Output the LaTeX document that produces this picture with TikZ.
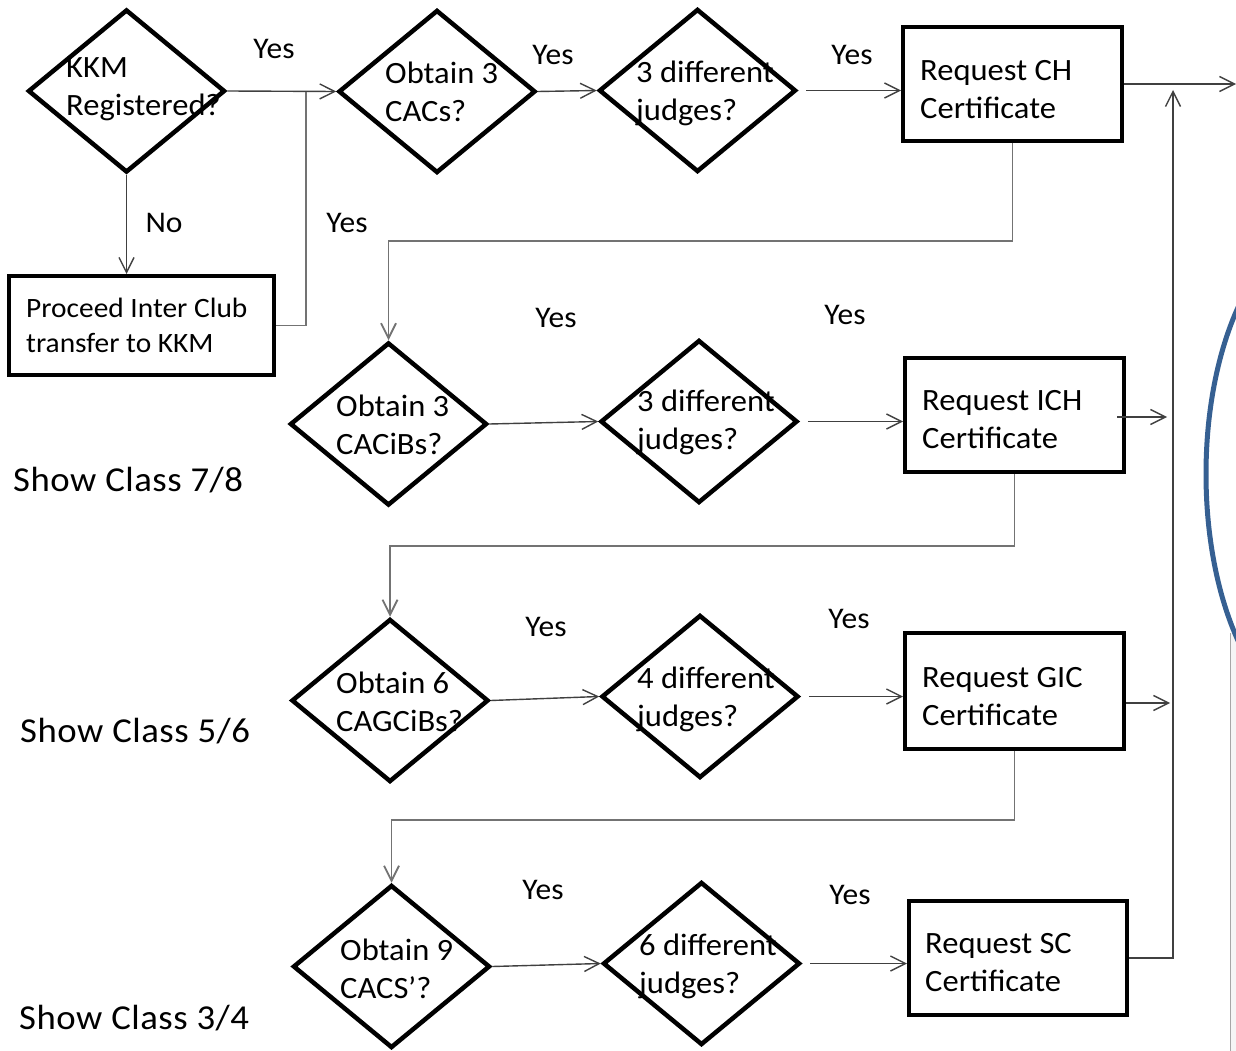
\documentclass[tikz,border=0pt]{standalone}
\usepackage{fontspec}
\setmainfont{Carlito}[FakeStretch=1.05]
\usetikzlibrary{shapes.geometric,arrows.meta,calc}
\definecolor{ellblue}{RGB}{54,96,146}
\begin{document}
\begin{tikzpicture}[x=1pt,y=-1pt,
  dec/.style={draw=black, line width=4.5pt, shape=diamond, minimum width=197pt, minimum height=163pt, inner sep=0pt},
  box/.style={draw=black, line width=4pt, rectangle, inner sep=0pt},
  txt/.style={anchor=north west, align=left, inner sep=0pt, font=\fontsize{31}{38}\selectfont},
  txtsm/.style={anchor=north west, align=left, inner sep=0pt, font=\fontsize{28}{35}\selectfont},
  lbl/.style={anchor=base, inner sep=0pt, font=\fontsize{30}{36}\selectfont},
  cls/.style={anchor=base west, inner sep=0pt, font=\fontsize{35}{40}\selectfont\addfontfeature{LetterSpace=1.5}},
  tip/.style={-{Straight Barb[length=15pt,width=15pt]}},
  conn/.style={draw=black!75, line width=1.4pt, tip},
  loopline/.style={draw=black!55, line width=1.8pt},
  looparrow/.style={loopline, tip},
]
\useasboundingbox (0,0) rectangle (1236,1051);

% right edge decoration
\begin{scope}
  \clip (0,0) rectangle (1236,1051);
  \fill[black!4] (1230,633) rectangle (1240,1051);
  \draw[black!35, line width=1pt] (1230,633) -- (1230,1051);
  \draw[ellblue, line width=5pt] (1326,474) ellipse [x radius=120pt, y radius=245pt];
\end{scope}

% decisions
\node[dec] (d1) at (126.5,91) {};
\node[dec] (d2) at (437,91.5) {};
\node[dec] (d3) at (697.5,90.5) {};
\node[dec] (d4) at (388.5,424) {};
\node[dec] (d5) at (699,421.5) {};
\node[dec] (d6) at (390,700.5) {};
\node[dec] (d7) at (700,696.5) {};
\node[dec] (d8) at (391.5,966.5) {};
\node[dec] (d9) at (701.5,963.5) {};

% boxes
\node[box, minimum width=265pt, minimum height=99pt] (b0) at (141.5,325.5) {};
\node[box, minimum width=219pt, minimum height=114pt] (bCH) at (1012.5,84) {};
\node[box, minimum width=219pt, minimum height=114pt] (bICH) at (1014.5,415) {};
\node[box, minimum width=219pt, minimum height=116pt] (bGIC) at (1014.5,691) {};
\node[box, minimum width=218pt, minimum height=114pt] (bSC) at (1018,958) {};

% texts
\node[txt] (t1) at (66,50.4) {\strut KKM\\\strut Registered?};
\node[txt] (t2) at (385,56.4) {\strut Obtain 3\\\strut CACs?};
\node[txt] (t3) at (636,55.4) {\strut 3 different\\\strut judges?};
\node[txt] (tCH) at (920,53.4) {\strut Request CH\\\strut Certificate};
\node[txt] (t4) at (336,389.4) {\strut Obtain 3\\\strut CACiBs?};
\node[txt] (t5) at (637,384.4) {\strut 3 different\\\strut judges?};
\node[txt] (tICH) at (922,383.4) {\strut Request ICH\\\strut Certificate};
\node[txt] (t6) at (336,666.4) {\strut Obtain 6\\\strut CAGCiBs?};
\node[txt] (t7) at (637,661.4) {\strut 4 different\\\strut judges?};
\node[txt] (tGIC) at (922,660.4) {\strut Request GIC\\\strut Certificate};
\node[txt] (t8) at (340,933.4) {\strut Obtain 9\\\strut CACS'?};
\node[txt] (t9) at (639,928.4) {\strut 6 different\\\strut judges?};
\node[txt] (tSC) at (925,926.4) {\strut Request SC\\\strut Certificate};
\node[txtsm] (t0) at (26,292.5) {\strut Proceed Inter Club\\\strut transfer to KKM};

\node[cls] (c78) at (13,491) {Show Class 7/8};
\node[cls] (c56) at (20,742) {Show Class 5/6};
\node[cls] (c34) at (19,1029) {Show Class 3/4};

% labels
\node[lbl] (y1) at (274,59) {Yes};
\node[lbl] (y2) at (553,65) {Yes};
\node[lbl] (y3) at (852,65) {Yes};
\node[lbl] (n1) at (164,233) {No};
\node[lbl] (y4) at (347,233) {Yes};
\node[lbl] (y5) at (556,327) {Yes};
\node[lbl] (y6) at (845,324) {Yes};
\node[lbl] (y7) at (546,636) {Yes};
\node[lbl] (y8) at (849,628) {Yes};
\node[lbl] (y9) at (543,899) {Yes};
\node[lbl] (y10) at (850,904) {Yes};

% helper coordinates
\coordinate (j1) at (306,92);
\coordinate (h1) at (0,241);
\coordinate (h2) at (0,546);
\coordinate (h3) at (0,820);
\coordinate (outR) at (1236,85);
\coordinate (vt) at (1173,90);
\coordinate (iR) at (1167,417);
\coordinate (gR) at (1170,703);

% row 1
\draw[conn] (d1.east) -- (d2.west);
\draw[conn] (d1.south) -- (d1.south |- b0.north);
\draw[loopline] (b0.east) -| (j1);
\draw[conn] (d2.east) -- (d3.west);
\draw[conn, shorten <=8pt] (d3.east) -- (d3.east -| bCH.west);
\draw[conn] (bCH.east) -- (bCH.east -| outR);
\draw[looparrow] (bCH.south) -- (bCH.south |- h1) -| (d4.north);

% row 2
\draw[conn] (d4.east) -- (d5.west);
\draw[conn, shorten <=8pt] (d5.east) -- (d5.east -| bICH.west);
\draw[conn] ($(bICH.east)+(-9,2)$) -- (iR);
\draw[looparrow] (bICH.south) -- (bICH.south |- h2) -| (d6.north);

% row 3
\draw[conn] (d6.east) -- (d7.west);
\draw[conn, shorten <=8pt] (d7.east) -- (d7.east -| bGIC.west);
\draw[conn] ($(bGIC.east)+(0,12)$) -- (gR);
\draw[looparrow] (bGIC.south) -- (bGIC.south |- h3) -| (d8.north);

% row 4
\draw[conn] (d8.east) -- (d9.west);
\draw[conn, shorten <=8pt] (d9.east) -- (d9.east -| bSC.west);
\draw[conn] (bSC.east) -| (vt);
\end{tikzpicture}
\end{document}
